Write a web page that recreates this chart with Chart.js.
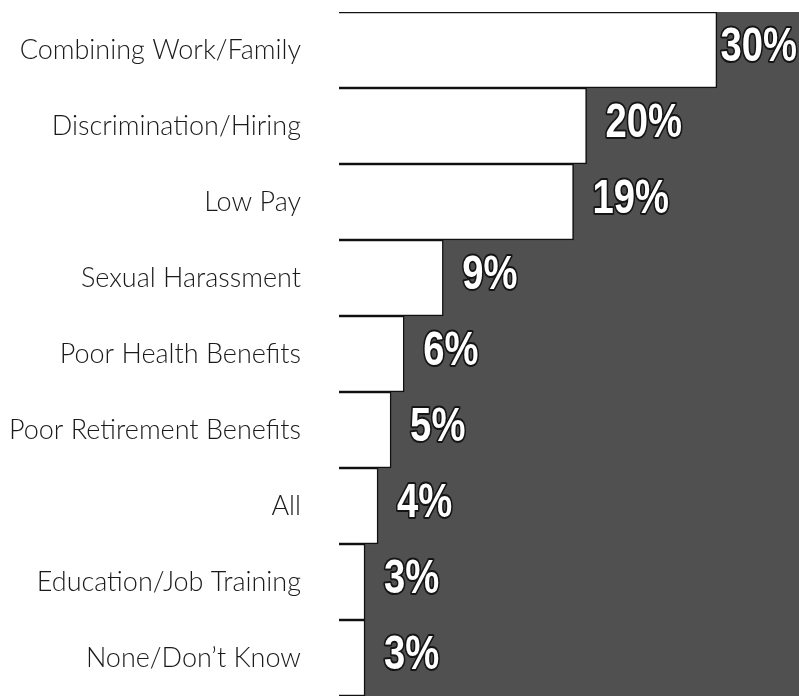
<!DOCTYPE html>
<html>
<head>
<meta charset="utf-8">
<script src="https://cdn.jsdelivr.net/npm/chart.js@4/dist/chart.umd.min.js"></script>
<style>
  html, body { margin: 0; padding: 0; background: #ffffff; }
  #wrap { width: 799px; height: 696px; }
</style>
</head>
<body>
<div id="wrap"><canvas id="c" width="799" height="696"></canvas></div>
<script>
const categories = [
  'Combining Work/Family',
  'Discrimination/Hiring',
  'Low Pay',
  'Sexual Harassment',
  'Poor Health Benefits',
  'Poor Retirement Benefits',
  'All',
  'Education/Job Training',
  'None/Don\u2019t Know'
];
const values = [30, 20, 19, 9, 6, 5, 4, 3, 3];
const valueLabels = ['30%', '20%', '19%', '9%', '6%', '5%', '4%', '3%', '3%'];

const panelPlugin = {
  id: 'panel',
  beforeDatasetsDraw(chart) {
    const { ctx, chartArea: a } = chart;
    ctx.save();
    ctx.fillStyle = '#505050';
    ctx.fillRect(a.left, a.top, a.right - a.left, a.bottom - a.top);
    ctx.restore();
  }
};

const valueLabelPlugin = {
  id: 'valueLabels',
  afterDatasetsDraw(chart) {
    const { ctx } = chart;
    const meta = chart.getDatasetMeta(0);
    const sx = 0.78;
    ctx.save();
    ctx.font = 'bold 49px "Liberation Sans", Arial, sans-serif';
    ctx.textBaseline = 'middle';
    ctx.textAlign = 'left';
    ctx.lineJoin = 'round';
    meta.data.forEach((bar, i) => {
      const txt = valueLabels[i];
      const w = ctx.measureText(txt).width * sx;
      let x = bar.x + 19;
      if (x + w > chart.width - 2) x = chart.width - 2 - w;
      const y = bar.y - 3;
      ctx.save();
      ctx.translate(x, y);
      ctx.scale(sx, 1);
      ctx.lineWidth = 4;
      ctx.strokeStyle = '#151515';
      ctx.strokeText(txt, 0, 0);
      ctx.fillStyle = '#ffffff';
      ctx.fillText(txt, 0, 0);
      ctx.restore();
    });
    ctx.restore();
  }
};

new Chart(document.getElementById('c'), {
  type: 'bar',
  data: {
    labels: categories,
    datasets: [{
      data: values,
      backgroundColor: '#ffffff',
      borderColor: '#111111',
      borderWidth: 1.5,
      borderSkipped: false,
      barPercentage: 1,
      categoryPercentage: 1
    }]
  },
  options: {
    indexAxis: 'y',
    responsive: false,
    animation: false,
    devicePixelRatio: 1,
    layout: { padding: { top: 12, left: 0, right: 0, bottom: 0 } },
    plugins: {
      legend: { display: false },
      tooltip: { enabled: false },
      title: { display: false }
    },
    scales: {
      x: {
        display: false,
        min: 1,
        max: 36.3
      },
      y: {
        grid: { display: false, drawTicks: false },
        border: { display: false },
        ticks: {
          color: '#1a1a1a',
          padding: 38,
          autoSkip: false,
          font: { family: 'Lato, "Liberation Sans", sans-serif', size: 27, weight: 300 }
        },
        afterFit(scale) {
          scale.width = 339;
          scale.paddingTop = 0;
          scale.paddingBottom = 0;
        }
      }
    }
  },
  plugins: [panelPlugin, valueLabelPlugin]
});
</script>
</body>
</html>
